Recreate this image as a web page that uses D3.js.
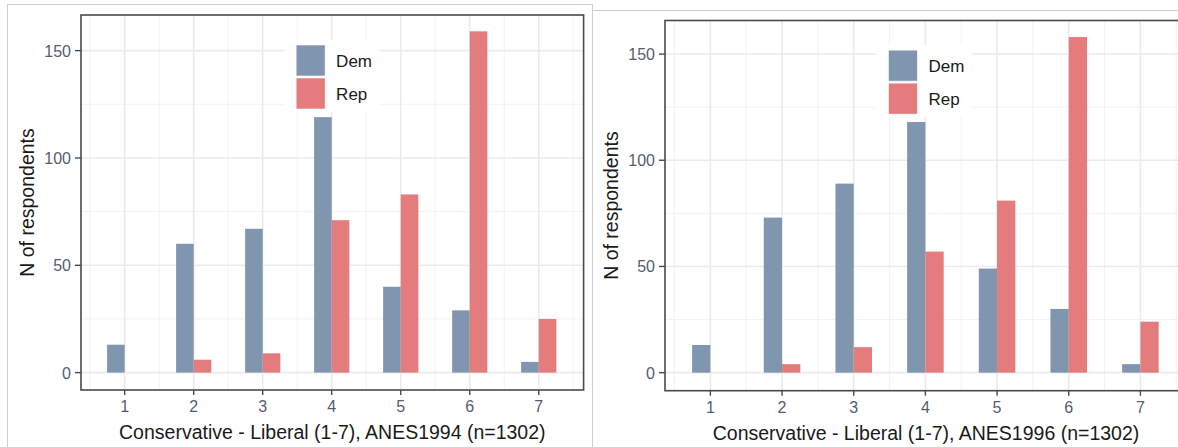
<!DOCTYPE html>
<html>
<head>
<meta charset="utf-8">
<script src="https://cdn.jsdelivr.net/npm/d3@7"></script>
<style>
  body { margin: 0; background: #fff; }
  svg { display: block; font-family: "Liberation Sans", Arial, sans-serif; }
</style>
</head>
<body>
<div id="chart"></div>
<script>
// liberal-conservative self placement, counts by party
const scalePoints = [1, 2, 3, 4, 5, 6, 7]
const dem1994 = [13, 60, 67, 119, 40, 29, 5]
const rep1994 = [0, 6, 9, 71, 83, 159, 25]
const dem1996 = [13, 73, 89, 118, 49, 30, 4]
const rep1996 = [0, 4, 12, 57, 81, 158, 24]
const yTicks = [0, 50, 100, 150]
const yMinor = [25, 75, 125]
const parties = ['Dem', 'Rep']
const partyColors = ['#8096ae', '#e47b7c']
const yTitle = 'N of respondents'
const xTitle1994 = 'Conservative - Liberal (1-7), ANES1994 (n=1302)'
const xTitle1996 = 'Conservative - Liberal (1-7), ANES1996 (n=1302)'

const W = 1178, H = 447
const svg = d3.select('#chart').append('svg')
    .attr('width', W)
    .attr('height', H)

// the two screenshot frames
svg.append('rect')
    .attr('x', 7.5).attr('y', 4.5)
    .attr('width', 585).attr('height', 500)
    .attr('fill', 'none').attr('stroke', '#cfcfcf')
svg.append('rect')
    .attr('x', 592.5).attr('y', 10.5)
    .attr('width', 700).attr('height', 500)
    .attr('fill', '#fff').attr('stroke', '#cfcfcf')

function drawPanel(p) {
    const g = svg.append('g')
    const x = d3.scaleLinear().domain([0.367, 7.65]).range([p.left, p.right])
    const y = d3.scaleLinear().domain(p.yDomain).range([p.bottom, p.top])
    const clipId = 'clip' + p.id

    svg.append('clipPath').attr('id', clipId)
        .append('rect')
        .attr('x', p.left).attr('y', p.top)
        .attr('width', p.right - p.left).attr('height', p.bottom - p.top)

    const inner = g.append('g').attr('clip-path', 'url(#' + clipId + ')')

    // grid
    const xMinor = scalePoints.map(d => d - 0.5).concat([7.5])
    inner.selectAll('.gxm').data(xMinor).enter().append('line')
        .attr('x1', d => x(d)).attr('x2', d => x(d))
        .attr('y1', p.top).attr('y2', p.bottom)
        .attr('stroke', '#efefef').attr('stroke-width', 0.8)
    inner.selectAll('.gym').data(yMinor).enter().append('line')
        .attr('x1', p.left).attr('x2', p.right)
        .attr('y1', d => y(d)).attr('y2', d => y(d))
        .attr('stroke', '#efefef').attr('stroke-width', 0.8)
    inner.selectAll('.gx').data(scalePoints).enter().append('line')
        .attr('x1', d => x(d)).attr('x2', d => x(d))
        .attr('y1', p.top).attr('y2', p.bottom)
        .attr('stroke', '#ebebeb').attr('stroke-width', 1.6)
    inner.selectAll('.gy').data(yTicks).enter().append('line')
        .attr('x1', p.left).attr('x2', p.right)
        .attr('y1', d => y(d)).attr('y2', d => y(d))
        .attr('stroke', '#ebebeb').attr('stroke-width', 1.6)

    // legend background sits over the grid
    const lgW = p.right - p.left, lgH = p.bottom - p.top
    const keyX = p.left + 0.428 * lgW
    const keyY = p.top + 0.08 * lgH
    const keyW = 29, keyH = 31
    inner.append('rect')
        .attr('x', keyX - 12).attr('y', keyY - 5)
        .attr('width', 96).attr('height', 2 * keyH + 10)
        .attr('fill', '#fff')

    // bars
    const bw = 0.255
    const series = [p.dem, p.rep]
    series.forEach((vals, s) => {
        inner.selectAll('.bar' + s).data(vals).enter().append('rect')
            .attr('x', (d, i) => x(scalePoints[i] - (s === 0 ? bw : 0)))
            .attr('width', x(bw) - x(0))
            .attr('y', d => y(d))
            .attr('height', d => y(0) - y(d))
            .attr('fill', partyColors[s])
    })

    // legend keys
    parties.forEach((name, i) => {
        inner.append('rect')
            .attr('x', keyX).attr('y', keyY + i * (keyH + 2))
            .attr('width', keyW).attr('height', keyH)
            .attr('fill', partyColors[i])
            .attr('stroke', '#fff').attr('stroke-width', 0.6)
        g.append('text')
            .attr('x', keyX + keyW + 11)
            .attr('y', keyY + i * (keyH + 2) + keyH / 2 + 6)
            .attr('font-size', 17).attr('fill', '#1a1a1a')
            .text(name)
    })

    // border
    g.append('rect')
        .attr('x', p.left).attr('y', p.top)
        .attr('width', p.right - p.left).attr('height', p.bottom - p.top)
        .attr('fill', 'none').attr('stroke', '#4a4a4a').attr('stroke-width', 1.6)

    // y axis
    yTicks.forEach(t => {
        g.append('line')
            .attr('x1', p.left - 6).attr('x2', p.left)
            .attr('y1', y(t)).attr('y2', y(t))
            .attr('stroke', '#4a4a4a').attr('stroke-width', 1.4)
        g.append('text')
            .attr('x', p.left - 10).attr('y', y(t) + 6)
            .attr('text-anchor', 'end')
            .attr('font-size', 16).attr('fill', '#555d6e')
            .text(t)
    })
    // x axis
    scalePoints.forEach(t => {
        g.append('line')
            .attr('x1', x(t)).attr('x2', x(t))
            .attr('y1', p.bottom).attr('y2', p.bottom + 5)
            .attr('stroke', '#4a4a4a').attr('stroke-width', 1.4)
        g.append('text')
            .attr('x', x(t)).attr('y', p.bottom + 22)
            .attr('text-anchor', 'middle')
            .attr('font-size', 16).attr('fill', '#555d6e')
            .text(t)
    })

    g.append('text')
        .attr('x', (p.left + p.right) / 2).attr('y', p.bottom + 49)
        .attr('text-anchor', 'middle')
        .attr('font-size', 19.5).attr('fill', '#1a1a1a')
        .text(p.xTitle)
    g.append('text')
        .attr('transform', 'translate(' + p.yTitleX + ',' + (p.top + p.bottom) / 2 + ') rotate(-90)')
        .attr('text-anchor', 'middle')
        .attr('font-size', 19.5).attr('fill', '#1a1a1a')
        .text(yTitle)
}

drawPanel({ id: 'a', left: 81, right: 583.6, top: 15, bottom: 390,
    yDomain: [-8.1, 166.6], dem: dem1994, rep: rep1994,
    xTitle: xTitle1994, yTitleX: 34 })
drawPanel({ id: 'b', left: 665, right: 1187, top: 20.5, bottom: 390.7,
    yDomain: [-8.5, 165.8], dem: dem1996, rep: rep1996,
    xTitle: xTitle1996, yTitleX: 618 })
</script>
</body>
</html>
